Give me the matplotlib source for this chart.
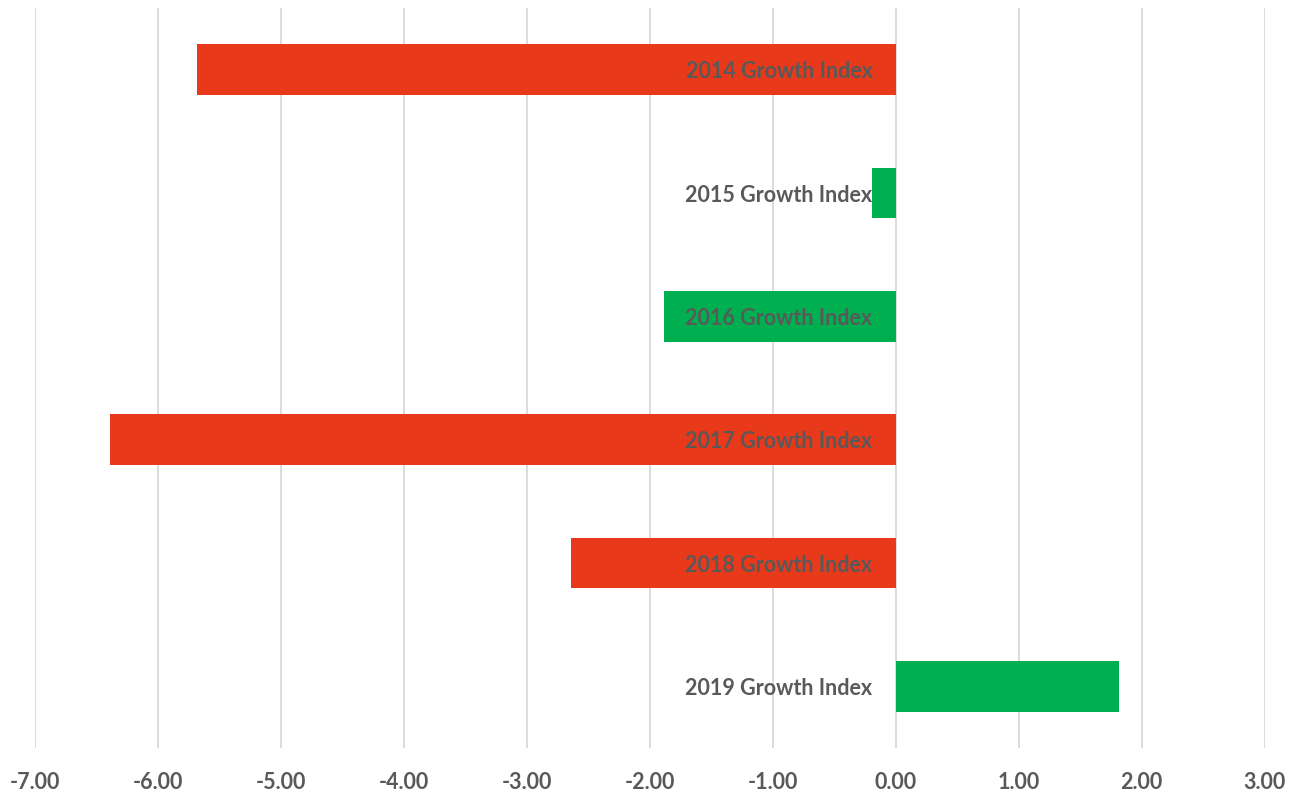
import matplotlib
matplotlib.use("Agg")
import matplotlib.pyplot as plt

categories = ["2014 Growth Index", "2015 Growth Index", "2016 Growth Index",
              "2017 Growth Index", "2018 Growth Index", "2019 Growth Index"]
values = [-5.68, -0.19, -1.88, -6.39, -2.64, 1.82]
bar_colors = ["#E8391A", "#00B050", "#00B050", "#E8391A", "#E8391A", "#00B050"]
xticks = [-7, -6, -5, -4, -3, -2, -1, 0, 1, 2, 3]

plt.rcParams['font.family'] = ['Lato', 'DejaVu Sans']
fig = plt.figure(figsize=(13.03, 7.92), dpi=100)
ax = fig.add_axes([34.5/1303, 44/792, 1230/1303, 740/792])

ypos = list(range(len(categories)))
ax.barh(ypos, values, height=0.41, color=bar_colors, zorder=2)
ax.set_xlim(-7, 3)
ax.set_ylim(len(categories) - 0.5, -0.5)
ax.set_xticks(xticks)
ax.set_xticklabels([f"{v:.2f}" for v in xticks], fontsize=15.5,
                   fontweight='bold', color='#595959')
ax.tick_params(axis='x', length=0, pad=17)
ax.set_yticks([])
ax.grid(axis='x', color='#D9D9D9', linewidth=1.3, zorder=0)
for s in ax.spines.values():
    s.set_visible(False)

for y, lab in zip(ypos, categories):
    ax.annotate(lab, xy=(0, y), xytext=(-23, -2), textcoords='offset pixels',
                ha='right', va='center', fontsize=15.5, fontweight='bold',
                color='#595959', zorder=3)

fig.savefig("out.png", dpi=100)
